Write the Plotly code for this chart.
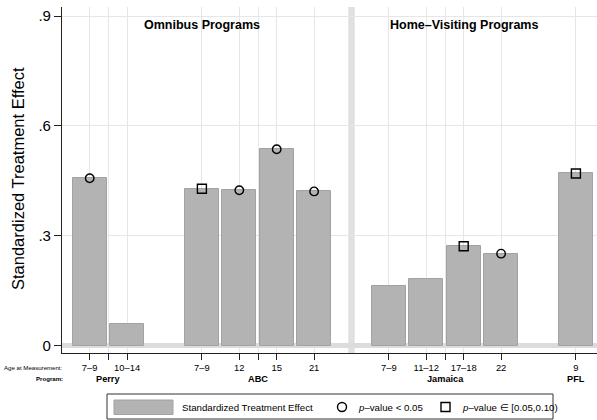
import plotly.graph_objects as go

# ---- data -------------------------------------------------------------
programs = ["Perry", "ABC", "Jamaica", "PFL"]
program_ages = [["7–9", "10–14"],
                ["7–9", "12", "15", "21"],
                ["7–9", "11–12", "17–18", "22"],
                ["9"]]
effects = [[0.457, 0.059],
           [0.428, 0.424, 0.536, 0.421],
           [0.162, 0.181, 0.271, 0.251],
           [0.470]]
# significance: "p05" = p-value < 0.05, "p10" = p-value in [0.05, 0.10), "" = none
significance = [["p05", ""],
                ["p10", "p05", "p05", "p05"],
                ["", "", "p10", "p05"],
                ["p10"]]
panel_titles = ["Omnibus Programs", "Home–Visiting Programs"]
ytick_vals = [0, 0.3, 0.6, 0.9]
ytick_text = ["0", ".3", ".6", ".9"]

# ---- layout of bar slots (one empty slot after every program) ---------
xs, ys, ages, sig = [], [], [], []
centers = []
slot = 1
for p, a_list, e_list, s_list in zip(programs, program_ages, effects, significance):
    pos = list(range(slot, slot + len(a_list)))
    xs += pos
    ys += e_list
    ages += a_list
    sig += s_list
    centers.append(sum(pos) / len(pos))
    slot = pos[-1] + 2
separator_x = xs[ages.index("21")] + 1  # empty slot between ABC and Jamaica

FONT = "Liberation Sans, Arial, sans-serif"
BAR_FILL = "#b3b3b3"
BAR_EDGE = "#a2a2a2"
GRID = "#e6e6e6"

fig = go.Figure()
fig.add_trace(go.Bar(x=xs, y=ys, width=0.9,
                     marker=dict(color=BAR_FILL, line=dict(color=BAR_EDGE, width=1)),
                     showlegend=False, hoverinfo="x+y"))
for code, sym, size in [("p05", "circle-open", 8.5), ("p10", "square-open", 9)]:
    fig.add_trace(go.Scatter(
        x=[x for x, s in zip(xs, sig) if s == code],
        y=[y for y, s in zip(ys, sig) if s == code],
        mode="markers", showlegend=False,
        marker=dict(symbol=sym, size=size, color="black", line=dict(color="black", width=1.4))))

# x ticks: one per bar, plus unlabeled ticks at multi-bar program centres
tickvals = list(xs) + [c for c, a in zip(centers, program_ages) if len(a) > 1]
ticktext = list(ages) + ["" for a in program_ages if len(a) > 1]

W, H = 597, 420
L, R, T, B = 62, 0, 7, 67
pw, ph = W - L - R, H - T - B


def px(xpix):
    return (xpix - L) / pw


def py(ypix):
    return (H - B - ypix) / ph


annotations = []
# panel titles
for title, xc in zip(panel_titles, [4, 11]):
    annotations.append(dict(x=xc, xref="x", y=py(25.5), yref="paper", text=f"<b>{title}</b>",
                            showarrow=False, font=dict(family=FONT, size=12.5, color="black"),
                            xanchor="center", yanchor="middle"))
# program names under the age labels
for p, c in zip(programs, centers):
    annotations.append(dict(x=c, xref="x", y=py(378.5), yref="paper", text=f"<b>{p}</b>",
                            showarrow=False, font=dict(family=FONT, size=9.2, color="black"),
                            xanchor="center", yanchor="middle"))
# row captions
annotations.append(dict(x=px(65), xref="paper", y=py(367.5), yref="paper", text="Age at Measurement:",
                        showarrow=False, font=dict(family=FONT, size=6.1, color="black"),
                        xanchor="right", yanchor="middle"))
annotations.append(dict(x=px(65), xref="paper", y=py(378.5), yref="paper", text="<b>Program:</b>",
                        showarrow=False, font=dict(family=FONT, size=6.1, color="black"),
                        xanchor="right", yanchor="middle"))
# y-axis title
annotations.append(dict(x=px(18), xref="paper", y=py(179), yref="paper",
                        text="Standardized Treatment Effect", textangle=-90, showarrow=False,
                        font=dict(family=FONT, size=16.5, color="black"),
                        xanchor="center", yanchor="middle"))

# legend drawn as a framed key below the plot
leg_y = 407
leg_font = dict(family=FONT, size=9.7, color="black")
annotations += [
    dict(x=px(180), xref="paper", y=py(leg_y), yref="paper", text="Standardized Treatment Effect",
         showarrow=False, font=leg_font, xanchor="left", yanchor="middle"),
    dict(x=px(356), xref="paper", y=py(leg_y), yref="paper", text="<i>p</i>–value &lt; 0.05",
         showarrow=False, font=leg_font, xanchor="left", yanchor="middle"),
    dict(x=px(460), xref="paper", y=py(leg_y), yref="paper", text="<i>p</i>–value ∈ [0.05,0.10)",
         showarrow=False, font=leg_font, xanchor="left", yanchor="middle"),
]
shapes = [
    # vertical separator between program families
    dict(type="line", xref="x", yref="paper", x0=separator_x, x1=separator_x, y0=0, y1=1,
         line=dict(color="#e0e0e0", width=6.5), layer="below"),
    # legend frame and keys
    dict(type="rect", xref="paper", yref="paper", x0=px(107), x1=px(553), y0=py(394), y1=py(419),
         line=dict(color="#333333", width=1), fillcolor="white"),
    dict(type="rect", xref="paper", yref="paper", x0=px(114), x1=px(173), y0=py(400), y1=py(414.5),
         line=dict(color=BAR_EDGE, width=1), fillcolor=BAR_FILL),
    dict(type="circle", xref="paper", yref="paper", x0=px(337.5), x1=px(346.5),
         y0=py(402.5), y1=py(411.5), line=dict(color="black", width=1.4)),
    dict(type="rect", xref="paper", yref="paper", x0=px(441), x1=px(450),
         y0=py(402.5), y1=py(411.5), line=dict(color="black", width=1.4)),
]

fig.update_layout(
    width=W, height=H,
    margin=dict(l=L, r=R, t=T, b=B, pad=0),
    paper_bgcolor="white", plot_bgcolor="white",
    font=dict(family=FONT, color="black"),
    bargap=0, showlegend=False,
    annotations=annotations, shapes=shapes,
)
fig.update_xaxes(range=[0.2594, 14.564], tickvals=tickvals, ticktext=ticktext,
                 tickfont=dict(family=FONT, size=9.4, color="black"),
                 ticks="outside", ticklen=6, tickwidth=1, tickcolor="#222222",
                 showgrid=True, gridcolor=GRID, gridwidth=1.3,
                 showline=True, linecolor="#222222", linewidth=1.2,
                 zeroline=False, automargin=False, fixedrange=True)
fig.update_yaxes(range=[-0.0204, 0.9246], tickvals=ytick_vals, ticktext=ytick_text,
                 tickfont=dict(family=FONT, size=15, color="black"),
                 ticks="outside", ticklen=7, tickwidth=1, tickcolor="#222222",
                 showgrid=True, gridcolor=GRID, gridwidth=1.3,
                 showline=True, linecolor="#222222", linewidth=1.2,
                 zeroline=True, zerolinecolor="#dcdcdc", zerolinewidth=4.5,
                 automargin=False, fixedrange=True)

fig.write_html("out.html")
